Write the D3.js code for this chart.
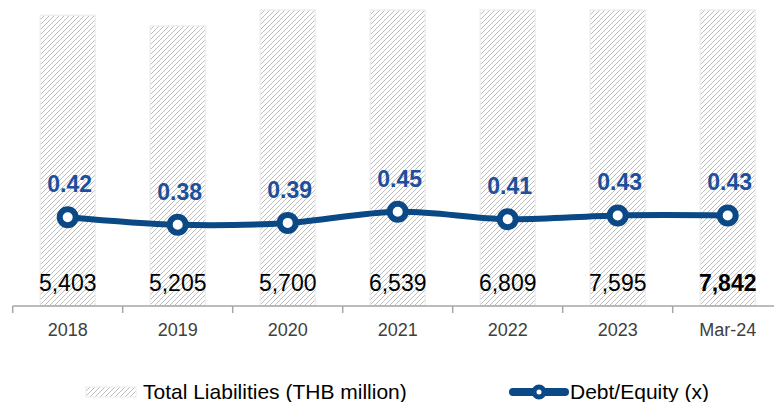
<!DOCTYPE html>
<html>
<head>
<meta charset="utf-8">
<script src="https://cdn.jsdelivr.net/npm/d3@7"></script>
<style>
  body { margin: 0; background: #fff; }
  svg { display: block; font-family: Arial, "Liberation Sans", sans-serif; }
</style>
</head>
<body>
<svg id="chart"></svg>
<script>
// data
const categories = ['2018', '2019', '2020', '2021', '2022', '2023', 'Mar-24'];
const liabilities = [5403, 5205, 5700, 6539, 6809, 7595, 7842];
const debtEquity = [0.42, 0.38, 0.39, 0.45, 0.41, 0.43, 0.43];
const liabilityLabels = ['5,403', '5,205', '5,700', '6,539', '6,809', '7,595', '7,842'];
const deLabels = ['0.42', '0.38', '0.39', '0.45', '0.41', '0.43', '0.43'];

const width = 774, height = 402;
const plotTop = 10, plotBottom = 306;
const lineColor = '#0a4985';
const labelBlue = '#1d4f9c';

const svg = d3.select('#chart')
    .attr('width', width)
    .attr('height', height);

// hatch pattern for the bars
const defs = svg.append('defs');
const pat = defs.append('pattern')
    .attr('id', 'hatch')
    .attr('patternUnits', 'userSpaceOnUse')
    .attr('width', 5)
    .attr('height', 5);
pat.append('rect').attr('width', 5).attr('height', 5).attr('fill', '#fff');
pat.append('path')
    .attr('d', 'M-1,1 l2,-2 M0,5 l5,-5 M4,6 l2,-2')
    .attr('stroke', '#bdbdbd')
    .attr('stroke-width', 1);

const xScale = d3.scaleBand()
    .domain(categories)
    .range([12.7, 782.7])
    .paddingInner(0.5)
    .paddingOuter(0.25);
const step = xScale.step();
const cx = d => xScale(d) + xScale.bandwidth() / 2;

// bars run past the top of the plot, so clamp them there
const yBar = d3.scaleLinear()
    .domain([0, 5500])
    .range([plotBottom, plotTop])
    .clamp(true);

const yLine = d3.scaleLinear()
    .domain([-0.055, 1.53])
    .range([plotBottom, plotTop]);

const rows = categories.map((c, i) => ({
    cat: c, total: liabilities[i], de: debtEquity[i],
    totalLabel: liabilityLabels[i], deLabel: deLabels[i]
}));

// bars
svg.selectAll('.bar')
    .data(rows)
    .enter()
  .append('rect')
    .attr('class', 'bar')
    .attr('x', d => xScale(d.cat))
    .attr('y', d => yBar(d.total))
    .attr('width', xScale.bandwidth())
    .attr('height', d => plotBottom - yBar(d.total))
    .attr('fill', 'url(#hatch)')
    .attr('stroke', '#ececec')
    .attr('stroke-width', 1.2);

// x axis
const axisG = svg.append('g')
    .attr('transform', `translate(0,${plotBottom})`);
axisG.append('line')
    .attr('x1', xScale.range()[0]).attr('x2', width)
    .attr('stroke', '#a6a6a6').attr('stroke-width', 1.5);
axisG.selectAll('.tick')
    .data(d3.range(categories.length + 1))
    .enter()
  .append('line')
    .attr('x1', i => xScale.range()[0] + i * step)
    .attr('x2', i => xScale.range()[0] + i * step)
    .attr('y1', 0).attr('y2', 7)
    .attr('stroke', '#a6a6a6').attr('stroke-width', 1.5);
axisG.selectAll('.year')
    .data(categories)
    .enter()
  .append('text')
    .attr('x', d => cx(d))
    .attr('y', 24)
    .attr('dy', '0.35em')
    .attr('text-anchor', 'middle')
    .attr('font-size', 18)
    .attr('fill', '#404040')
    .text(d => d);

// bar value labels
svg.selectAll('.val')
    .data(rows)
    .enter()
  .append('text')
    .attr('x', d => cx(d.cat))
    .attr('y', 283)
    .attr('dy', '0.35em')
    .attr('text-anchor', 'middle')
    .attr('font-size', 23)
    .attr('font-weight', (d, i) => i === rows.length - 1 ? 'bold' : 'normal')
    .attr('fill', '#000')
    .text(d => d.totalLabel);

// debt/equity line
const line = d3.line()
    .x(d => cx(d.cat))
    .y(d => yLine(d.de))
    .curve(d3.curveCatmullRom.alpha(0.5));

svg.append('path')
    .datum(rows)
    .attr('d', line)
    .attr('fill', 'none')
    .attr('stroke', lineColor)
    .attr('stroke-width', 6)
    .attr('stroke-linejoin', 'round');

svg.selectAll('.dot')
    .data(rows)
    .enter()
  .append('circle')
    .attr('cx', d => cx(d.cat))
    .attr('cy', d => yLine(d.de))
    .attr('r', 8)
    .attr('fill', '#fff')
    .attr('stroke', lineColor)
    .attr('stroke-width', 6);

svg.selectAll('.de-label')
    .data(rows)
    .enter()
  .append('text')
    .attr('x', d => cx(d.cat) + 2)
    .attr('y', d => yLine(d.de) - 33)
    .attr('dy', '0.35em')
    .attr('text-anchor', 'middle')
    .attr('font-size', 23)
    .attr('font-weight', 'bold')
    .attr('fill', labelBlue)
    .text(d => d.deLabel);

// legend
const legend = svg.append('g').attr('transform', 'translate(0,392)');
legend.append('rect')
    .attr('x', 86).attr('y', -5)
    .attr('width', 50).attr('height', 10)
    .attr('fill', 'url(#hatch)')
    .attr('stroke', '#ececec');
legend.append('text')
    .attr('x', 143).attr('dy', '0.35em')
    .attr('font-size', 21)
    .attr('fill', '#000')
    .text('Total Liabilities (THB million)');

legend.append('line')
    .attr('x1', 513).attr('x2', 565)
    .attr('stroke', lineColor)
    .attr('stroke-width', 8)
    .attr('stroke-linecap', 'round');
legend.append('circle')
    .attr('cx', 539).attr('r', 5)
    .attr('fill', '#fff')
    .attr('stroke', lineColor)
    .attr('stroke-width', 5);
legend.append('text')
    .attr('x', 570).attr('dy', '0.35em')
    .attr('font-size', 21)
    .attr('fill', '#000')
    .text('Debt/Equity (x)');
</script>
</body>
</html>
